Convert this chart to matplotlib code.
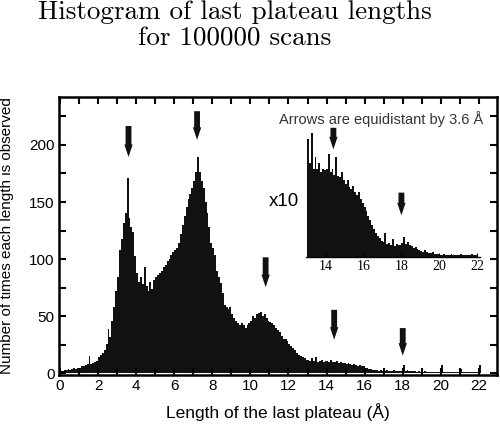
import numpy as np
import matplotlib
matplotlib.use('Agg')
import matplotlib.pyplot as plt
from matplotlib.ticker import MultipleLocator

# counts per 0.1 A bin, starting at 0 A
counts = [2, 2, 3, 3, 4, 3, 4, 5, 4, 5,
          5, 6, 6, 7, 8, 15, 8, 9, 10, 11,
          14, 16, 18, 20, 26, 39, 32, 46, 58, 72,
          84, 108, 118, 132, 140, 171, 136, 128, 124, 103,
          88, 80, 84, 78, 93, 76, 72, 80, 74, 82,
          84, 86, 88, 90, 93, 95, 98, 100, 104, 106,
          108, 110, 114, 122, 130, 138, 146, 153, 157, 162,
          168, 176, 189, 176, 168, 162, 150, 140, 128, 114,
          110, 104, 90, 84, 79, 70, 60, 58, 56, 58,
          52, 48, 46, 44, 42, 44, 42, 40, 42, 44,
          46, 50, 48, 52, 53, 54, 50, 52, 48, 46,
          45, 44, 42, 40, 38, 36, 33, 30, 30, 28,
          26, 24, 22, 20, 18, 16, 15, 14, 13, 12,
          12, 11, 13, 11, 14, 10, 11, 12, 10, 11,
          11, 10, 12, 10, 10, 11, 9, 10, 9, 9,
          8, 9, 8, 7, 8, 7, 6, 7, 6, 6,
          5, 5, 4, 4, 3, 3, 3, 2, 3, 2,
          2, 3, 2, 2, 2, 3, 2, 2, 2, 2,
          7, 2, 3, 2, 2, 2, 2, 1, 2, 1,
          1, 2, 1, 1, 1, 1, 1, 1, 1, 1,
          7, 1, 1, 1, 1, 1, 1, 1, 1, 1,
          4, 1, 1, 1, 1, 1, 1, 1, 1, 1,
          7]
bin_width = 0.1

# inset (x10) counts per 0.1 A bin, starting at 13 A
inset_start = 13.0
inset_counts = [200, 160, 210, 150, 170, 150, 160, 145, 150, 148,
                150, 175, 145, 150, 140, 170, 138, 135, 145, 130,
                124, 130, 118, 115, 120, 110, 105, 110, 98, 92,
                85, 78, 70, 62, 55, 48, 40, 35, 32, 28,
                25, 40, 22, 24, 20, 30, 18, 22, 20, 21,
                24, 34, 22, 25, 20, 18, 16, 17, 14, 12,
                10, 9, 12, 8, 7, 7, 8, 6, 5, 5,
                4, 3, 6, 3, 4, 3, 5, 3, 3, 4,
                3, 5, 3, 3, 4, 3, 3, 5, 3, 3]

# arrows: x, top, tip (main axes)
arrow_x = [3.6, 7.2, 10.8, 14.4, 18.0]
arrow_top = [219, 232, 104, 58, 42]
arrow_tip = [187, 202, 73, 27, 13]
# arrows in inset
inset_arrow_x = [14.4, 18.0]
inset_arrow_top = [224, 114]
inset_arrow_tip = [178, 66]

title_lines = ['Histogram of last plateau lengths', 'for 100000 scans']

fig = plt.figure(figsize=(5, 4.32), dpi=100)
fig.text(0.47, 1 - 18.5 / 432, title_lines[0], ha='center', va='baseline',
         family='cmr10', fontsize=19.5)
fig.text(0.47, 1 - 45.5 / 432, title_lines[1], ha='center', va='baseline',
         family='cmr10', fontsize=19.5)

ax = fig.add_axes([0.118, 0.132, 0.876, 0.6435])
edges = np.arange(len(counts) + 1) * bin_width
ax.stairs(counts, edges, fill=True, color='#111111', linewidth=0)
ax.set_xlim(-0.05, 22.95)
ax.set_ylim(-1.5, 242)
ax.xaxis.set_major_locator(MultipleLocator(2))
ax.xaxis.set_minor_locator(MultipleLocator(1))
ax.yaxis.set_major_locator(MultipleLocator(50))
ax.yaxis.set_minor_locator(MultipleLocator(25))
ax.tick_params(which='both', direction='in', top=True, right=True, width=1.5,
               labelsize=11, pad=3, length=5)
for s in ax.spines.values():
    s.set_linewidth(1.8)
for lab in ax.get_xticklabels() + ax.get_yticklabels():
    lab.set_family('Liberation Sans')
ax.set_xlabel('Length of the last plateau (Å)', family='Liberation Sans', fontsize=12.5, labelpad=7)
ax.set_ylabel('Number of times each length is observed', family='Liberation Sans',
              fontsize=11)
ax.yaxis.set_label_coords(-0.103, 0.5)

def draw_arrow(a, x, top, tip):
    a.annotate('', xy=(x, tip), xytext=(x, top),
               arrowprops=dict(arrowstyle='simple,head_width=0.6,head_length=0.9,tail_width=0.42',
                               color='#111111', lw=0), annotation_clip=False)

for x, t, p in zip(arrow_x, arrow_top, arrow_tip):
    draw_arrow(ax, x, t, p)

ax.text(0.968, 0.921, 'Arrows are equidistant by 3.6 Å', transform=ax.transAxes,
        ha='right', va='center', fontsize=10.5, color='#333333', family='Liberation Sans')
ax.text(0.514, 0.625, 'x10', transform=ax.transAxes, ha='center', va='center',
        fontsize=13.5, family='Liberation Sans')

ins = fig.add_axes([0.612, 0.405, 0.348, 0.3056])
inset_edges = inset_start + np.arange(len(inset_counts) + 1) * bin_width
ins.stairs(inset_counts, inset_edges, fill=True, color='#111111', linewidth=0)
ins.set_xlim(12.95, 22.16)
ins.set_ylim(0, 224)
ins.patch.set_alpha(0)
for k in ['left', 'right', 'top']:
    ins.spines[k].set_visible(False)
ins.spines['bottom'].set_linewidth(1)
ins.set_yticks([])
ins.xaxis.set_major_locator(MultipleLocator(2))
ins.tick_params(axis='x', direction='in', length=3, labelsize=10, pad=2)
for lab in ins.get_xticklabels():
    lab.set_family('Liberation Serif')
for x, t, p in zip(inset_arrow_x, inset_arrow_top, inset_arrow_tip):
    draw_arrow(ins, x, t, p)

fig.savefig('out.png', dpi=100)
